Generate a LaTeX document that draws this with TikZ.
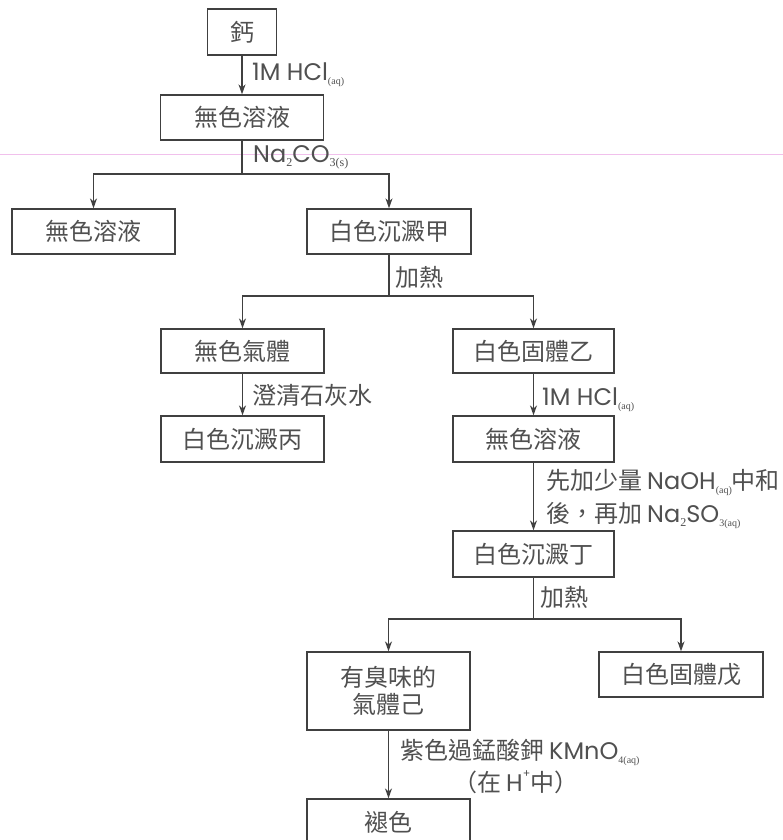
\documentclass[tikz,border=0pt]{standalone}
\usepackage{fontspec}
\newfontfamily\cjk{Noto Sans CJK TC}
\newfontfamily\latn{Poppins}
\newfontfamily\serifsub{Liberation Serif}
\usetikzlibrary{arrows.meta}
\definecolor{linec}{HTML}{404040}
\definecolor{textc}{HTML}{505050}
\definecolor{pinkl}{HTML}{F1C0EC}
\newcommand\aqsub[1]{\raisebox{-0.3ex}{\serifsub\fontsize{10}{10}\selectfont #1}}
\newcommand\numsub[1]{\raisebox{-0.3ex}{\serifsub\fontsize{12}{12}\selectfont #1}}
\newcommand\supplus[1]{\raisebox{1.1ex}{\latn\fontsize{11}{11}\selectfont #1}}
\newcommand\gapcl{\hspace{5pt}}
\tikzset{
  box/.style={draw=linec, line width=1.3pt, minimum width=163pt, minimum height=46pt,
    inner sep=0pt, text=textc, font=\cjk\fontsize{24}{27}\selectfont},
  lab/.style={anchor=west, inner sep=0pt, text=textc, font=\cjk\fontsize{24}{33}\selectfont},
  arr/.style={draw=linec, line width=1.3pt, -{Stealth[length=10pt,width=7pt]}},
  ln/.style={draw=linec, line width=1.3pt},
}
\begin{document}
\begin{tikzpicture}[x=1pt,y=-1pt]
\useasboundingbox (0,0) rectangle (783,840);
\draw[pinkl, line width=1pt] (0,154) -- (783,154);
% boxes
\node[box, minimum width=69pt] (ca) at (242,32) {鈣};
\node[box, minimum height=45pt] (s1) at (242,117.5) {無色溶液};
\node[box, minimum height=45pt] (s2L) at (93.5,231.5) {無色溶液};
\node[box, minimum height=45pt, minimum width=164pt] (pA) at (389,231.5) {白色沉澱甲};
\node[box, minimum height=44pt] (gas) at (242.5,351) {無色氣體};
\node[box, minimum height=44pt, minimum width=161pt] (solB) at (533.5,351) {白色固體乙};
\node[box] (pC) at (242.5,439) {白色沉澱丙};
\node[box, minimum width=161pt] (s3) at (533.5,439) {無色溶液};
\node[box, minimum width=161pt] (pD) at (533.5,554) {白色沉澱丁};
\node[box, minimum height=78pt, align=center] (gasF) at (388.5,691) {有臭味的\\氣體己};
\node[box, minimum height=45pt, minimum width=164pt] (solE) at (681,674.5) {白色固體戊};
\node[box] (fade) at (388.5,822) {褪色};
% junctions
\coordinate (j1) at (242,174);
\coordinate (j2) at (389,296);
\coordinate (j3) at (533.5,619);
% connectors
\draw[arr] (ca) -- (s1);
\draw[ln] (s1) -- (j1);
\draw[arr] (j1) -| (s2L.north);
\draw[arr] (j1) -| (pA.north);
\draw[ln] (pA) -- (j2);
\draw[arr] (j2) -| (gas.north);
\draw[arr] (j2) -| (solB.north);
\draw[arr] (gas) -- (pC);
\draw[arr] (solB) -- (s3);
\draw[arr] (s3) -- (pD);
\draw[ln] (pD) -- (j3);
\draw[arr] (j3) -| (gasF.north);
\draw[arr] (j3) -| (solE.north);
\draw[arr] (gasF) -- (fade);
% labels
\node[lab] (l1) at (252,75) {{\latn 1M HCl}\aqsub{(aq)}};
\node[lab] (l2) at (253,157) {{\latn Na}\numsub{2}{\latn CO}\numsub{3(s)}};
\node[lab] (l3) at (395,277) {加熱};
\node[lab] (l4) at (252,395) {澄清石灰水};
\node[lab] (l5) at (542,400) {{\latn 1M HCl}\aqsub{(aq)}};
\node[lab, align=left] (l6) at (546,499) {先加少量\gapcl{\latn NaOH}\aqsub{(aq)}中和\\後，再加\gapcl{\latn Na}\numsub{2}{\latn SO}\aqsub{3(aq)}};
\node[lab] (l7) at (540,597) {加熱};
\node[lab] (l8) at (400,752) {紫色過錳酸鉀\gapcl{\latn KMnO}\aqsub{4(aq)}};
\node[lab] (l9) at (453,782) {（在\gapcl{\latn H}\supplus{+}中）};
\end{tikzpicture}
\end{document}
